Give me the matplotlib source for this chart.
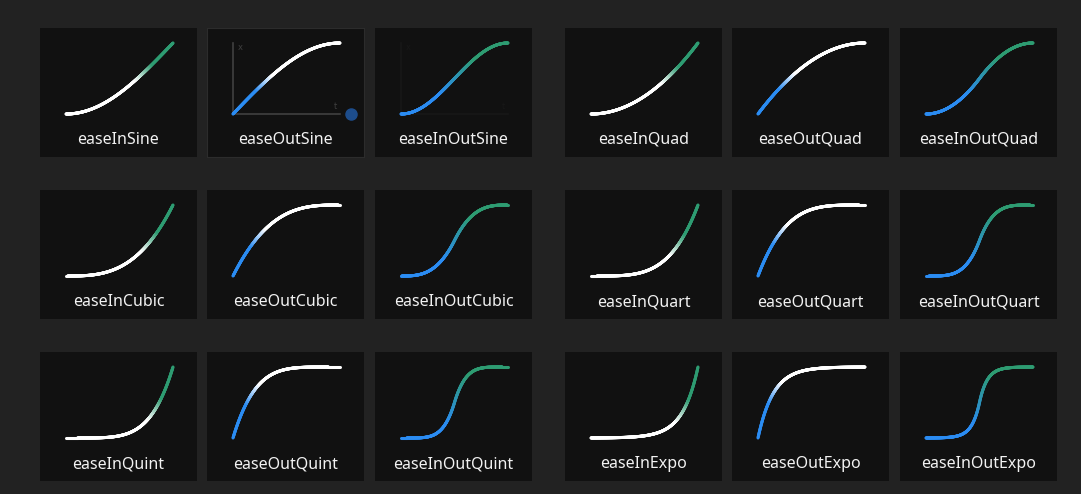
import numpy as np
import matplotlib
matplotlib.use("Agg")
import matplotlib.pyplot as plt
from matplotlib.collections import LineCollection
from matplotlib.colors import LinearSegmentedColormap

# easing families, laid out two per row, each as In / Out / InOut
FAMILIES = ["Sine", "Quad", "Cubic", "Quart", "Quint", "Expo"]
POWERS = {"Quad": 2, "Cubic": 3, "Quart": 4, "Quint": 5}
MODES = ["In", "Out", "InOut"]

W, H = 1081, 494
BG = "#222222"
PANEL = "#111111"
BLUE = "#2b8cf2"
GREEN = "#2e9c72"
WHITE = "#ffffff"

COL_X = [40, 207, 375, 565, 732, 900]
ROW_Y = [28, 190, 352]
PW, PH = 157, 129
# curve box inside a panel (pixels)
CX, CY, CW, CH = 26, 15, 107, 71

CMAPS = {
    "In": LinearSegmentedColormap.from_list(
        "in", [(0, WHITE), (0.6, WHITE), (0.78, GREEN), (1, GREEN)]),
    "Out": LinearSegmentedColormap.from_list(
        "out", [(0, BLUE), (0.25, BLUE), (0.42, WHITE), (1, WHITE)]),
    "InOut": LinearSegmentedColormap.from_list(
        "inout", [(0, BLUE), (0.35, BLUE), (0.72, GREEN), (1, GREEN)]),
}


def ease(family, mode, t):
    if family == "Sine":
        if mode == "In":
            return 1 - np.cos(np.pi * t / 2)
        if mode == "Out":
            return np.sin(np.pi * t / 2)
        return -(np.cos(np.pi * t) - 1) / 2
    if family == "Expo":
        if mode == "In":
            return np.where(t == 0, 0, 2 ** (10 * t - 10))
        if mode == "Out":
            return np.where(t == 1, 1, 1 - 2 ** (-10 * t))
        return np.where(t < 0.5, 2 ** (20 * t - 10) / 2,
                        (2 - 2 ** (-20 * t + 10)) / 2)
    p = POWERS[family]
    if mode == "In":
        return t ** p
    if mode == "Out":
        return 1 - (1 - t) ** p
    return np.where(t < 0.5, 2 ** (p - 1) * t ** p, 1 - (-2 * t + 2) ** p / 2)


def fig_rect(x, y, w, h):
    return [x / W, 1 - (y + h) / H, w / W, h / H]


fig = plt.figure(figsize=(W / 100, H / 100), dpi=100, facecolor=BG)

for fi, fam in enumerate(FAMILIES):
    row = fi // 2
    for mi, mode in enumerate(MODES):
        col = (fi % 2) * 3 + mi
        px, py = COL_X[col], ROW_Y[row]
        name = "ease" + mode + fam

        pan = fig.add_axes(fig_rect(px, py, PW, PH))
        pan.set_facecolor(PANEL)
        pan.set_xlim(0, PW)
        pan.set_ylim(PH, 0)
        pan.set_xticks([])
        pan.set_yticks([])
        for s in pan.spines.values():
            s.set_visible(name == "easeOutSine")
            s.set_color("#2c2c2c")
        pan.text(PW / 2, 112, name, color="#f2f2f2", fontsize=11.5,
                 family="Noto Sans", ha="center", va="center")

        ax = fig.add_axes(fig_rect(px + CX, py + CY, CW, CH))
        ax.set_xlim(0, 1)
        ax.set_ylim(0, 1)
        ax.axis("off")

        if name in ("easeOutSine", "easeInOutSine"):
            gc = "#404040" if name == "easeOutSine" else "#181818"
            ax.plot([0, 0, 1], [1, 0, 0], color=gc, lw=1.2, clip_on=False)
            ax.text(0.04, 0.94, "x", color=gc, fontsize=6, ha="left",
                    va="center")
            ax.text(0.96, 0.1, "t", color=gc, fontsize=6, ha="center",
                    va="center")
        if name == "easeOutSine":
            ax.plot([1.1], [0.0], "o", color="#1d4d8c", markersize=8,
                    clip_on=False)

        t = np.linspace(0, 1, 500)
        y = ease(fam, mode, t)
        # gradient follows the path length in pixel space
        d = np.hypot(np.diff(t) * CW, np.diff(y) * CH)
        s = np.concatenate([[0], np.cumsum(d)])
        s = s / s[-1]
        pts = np.column_stack([t, y]).reshape(-1, 1, 2)
        segs = np.concatenate([pts[:-1], pts[1:]], axis=1)
        lc = LineCollection(segs, cmap=CMAPS[mode], linewidths=2.2,
                            capstyle="round", clip_on=False)
        lc.set_array((s[:-1] + s[1:]) / 2)
        lc.set_clim(0, 1)
        ax.add_collection(lc)

fig.savefig("out.png", dpi=100, facecolor=BG)
